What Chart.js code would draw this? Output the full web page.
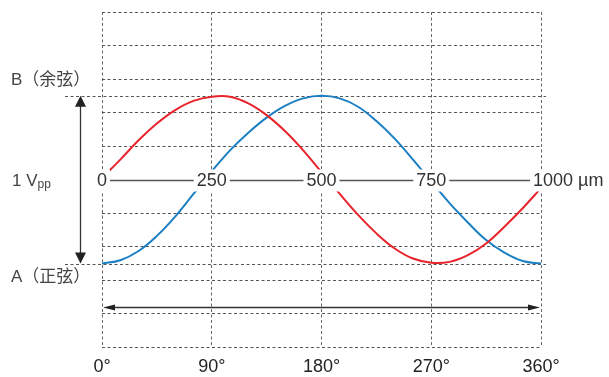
<!DOCTYPE html>
<html>
<head>
<meta charset="utf-8">
<script src="https://cdn.jsdelivr.net/npm/chart.js@4.4.0/dist/chart.umd.min.js"></script>
<style>
    html, body { margin: 0; padding: 0; background: #fff; }
    #wrap { width: 609px; height: 377px; }
</style>
</head>
<body>
<div id="wrap"><canvas id="graphique" width="609" height="377"></canvas></div>
<script>
// phase en degrés (axe horizontal)
const degres = [0, 15, 30, 45, 60, 75, 90, 105, 120, 135, 150, 165, 180,
    195, 210, 225, 240, 255, 270, 285, 300, 315, 330, 345, 360];

// A (正弦) - courbe rouge
const sinusA = [0.02, 0.24, 0.47, 0.67, 0.83, 0.94, 0.99, 0.99, 0.91, 0.77, 0.58, 0.35, 0.09,
    -0.17, -0.42, -0.64, -0.82, -0.94, -0.99, -0.98, -0.90, -0.76, -0.56, -0.34, -0.10];

// B (余弦) - courbe bleue
const cosinusB = [-1.00, -0.96, -0.85, -0.67, -0.44, -0.17, 0.10, 0.35, 0.56, 0.74, 0.88, 0.97, 1.00,
    0.97, 0.87, 0.70, 0.49, 0.24, -0.02, -0.28, -0.51, -0.72, -0.87, -0.97, -1.00];

const tickDegres = [0, 90, 180, 270, 360];
const labelsPosition = ['0', '250', '500', '750', '1000 µm'];
const niveauB = 1;
const niveauA = -1;
const niveauPeriode = -1.52;

const police = "'Liberation Sans', Arial, 'Noto Sans CJK SC', sans-serif";

function fleche(ctx, x, y, dx, dy, longueur, demiLargeur) {
    // pointe en (x, y), direction (dx, dy)
    ctx.beginPath();
    ctx.moveTo(x, y);
    ctx.lineTo(x - dx * longueur - dy * demiLargeur, y - dy * longueur - dx * demiLargeur);
    ctx.lineTo(x - dx * longueur + dy * demiLargeur, y - dy * longueur + dx * demiLargeur);
    ctx.closePath();
    ctx.fill();
}

const annotations = {
    id: 'annotations',
    beforeDatasetsDraw(chart) {
        const {ctx, chartArea, scales: {y}} = chart;
        ctx.save();
        ctx.strokeStyle = '#555';
        ctx.lineWidth = 1;
        ctx.setLineDash([3, 2.5]);
        [niveauB, niveauA].forEach(function (v) {
            const py = Math.round(y.getPixelForValue(v)) + 0.5;
            ctx.beginPath();
            ctx.moveTo(65, py);
            ctx.lineTo(chartArea.right + 5, py);
            ctx.stroke();
        });
        ctx.restore();
    },
    afterDatasetsDraw(chart) {
        const {ctx, scales: {x, y}} = chart;
        const y0 = Math.round(y.getPixelForValue(0)) + 0.5;

        ctx.save();
        // axe des positions
        ctx.strokeStyle = '#555';
        ctx.lineWidth = 1.3;
        ctx.beginPath();
        ctx.moveTo(x.getPixelForValue(0), y0);
        ctx.lineTo(x.getPixelForValue(360), y0);
        ctx.stroke();

        ctx.font = '18px ' + police;
        ctx.textBaseline = 'middle';
        tickDegres.forEach(function (d, i) {
            const txt = labelsPosition[i];
            const w = ctx.measureText(txt).width;
            let gauche = x.getPixelForValue(d) - w / 2;
            if (i === tickDegres.length - 1) {
                gauche = x.getPixelForValue(d) - 8;
            }
            ctx.fillStyle = '#fff';
            ctx.fillRect(gauche - 3, y0 - 11, w + 6, 22);
            ctx.fillStyle = '#333';
            ctx.textAlign = 'left';
            ctx.fillText(txt, gauche, y0 + 1);
        });

        // flèche verticale 1 Vpp
        const yB = y.getPixelForValue(niveauB);
        const yA = y.getPixelForValue(niveauA);
        ctx.strokeStyle = '#333';
        ctx.fillStyle = '#222';
        ctx.lineWidth = 1.3;
        ctx.beginPath();
        ctx.moveTo(80.5, yB + 8);
        ctx.lineTo(80.5, yA - 8);
        ctx.stroke();
        fleche(ctx, 80.5, yB, 0, -1, 11, 5.5);
        fleche(ctx, 80.5, yA, 0, 1, 11, 5.5);

        // flèche horizontale une période
        const yP = Math.round(y.getPixelForValue(niveauPeriode)) + 0.5;
        const x0 = x.getPixelForValue(0) + 1;
        const x1 = x.getPixelForValue(360) - 1;
        ctx.beginPath();
        ctx.moveTo(x0 + 6, yP);
        ctx.lineTo(x1 - 6, yP);
        ctx.stroke();
        fleche(ctx, x0, yP, -1, 0, 12, 3);
        fleche(ctx, x1, yP, 1, 0, 12, 3);

        // textes à gauche
        ctx.fillStyle = '#444';
        ctx.textAlign = 'left';
        ctx.font = '17px ' + police;
        ctx.fillText('B（余弦）', 11, y.getPixelForValue(1.18));
        ctx.fillText('A（正弦）', 11, y.getPixelForValue(-1.17));

        ctx.textBaseline = 'alphabetic';
        ctx.fillText('1 V', 12, y0 + 5.5);
        const wV = ctx.measureText('1 V').width;
        ctx.font = '12px ' + police;
        ctx.fillText('pp', 12 + wV, y0 + 7.5);
        ctx.restore();
    }
};

new Chart(document.getElementById('graphique'), {
    type: 'line',
    data: {
        datasets: [{
            label: 'A',
            data: degres.map((d, i) => ({x: d, y: sinusA[i]})),
            borderColor: '#e8232b',
            borderWidth: 2,
            pointRadius: 0,
            tension: 0.4,
            fill: false
        }, {
            label: 'B',
            data: degres.map((d, i) => ({x: d, y: cosinusB[i]})),
            borderColor: '#1b7fc4',
            borderWidth: 2,
            pointRadius: 0,
            tension: 0.4,
            fill: false
        }]
    },
    options: {
        responsive: false,
        animation: false,
        devicePixelRatio: 1,
        layout: {padding: {left: 102, right: 68, top: 12, bottom: -10}},
        plugins: {legend: {display: false}, tooltip: {enabled: false}},
        scales: {
            x: {
                type: 'linear',
                min: 0,
                max: 360,
                border: {display: false, dash: [3, 2.5]},
                grid: {color: '#666', lineWidth: 1, drawTicks: false},
                afterBuildTicks: function (axis) {
                    axis.ticks = tickDegres.map(v => ({value: v}));
                },
                ticks: {
                    callback: v => v + '°',
                    padding: 9,
                    maxRotation: 0,
                    autoSkip: false,
                    color: '#222',
                    font: {size: 18, family: police}
                }
            },
            y: {
                min: -2,
                max: 2,
                border: {display: false, dash: [3, 2.5]},
                grid: {
                    drawTicks: false,
                    lineWidth: 1,
                    color: ctx => Math.abs(ctx.tick.value) < 1e-6 ? 'rgba(0,0,0,0)' : '#555'
                },
                ticks: {display: false, stepSize: 0.4}
            }
        }
    },
    plugins: [annotations]
});
</script>
</body>
</html>
